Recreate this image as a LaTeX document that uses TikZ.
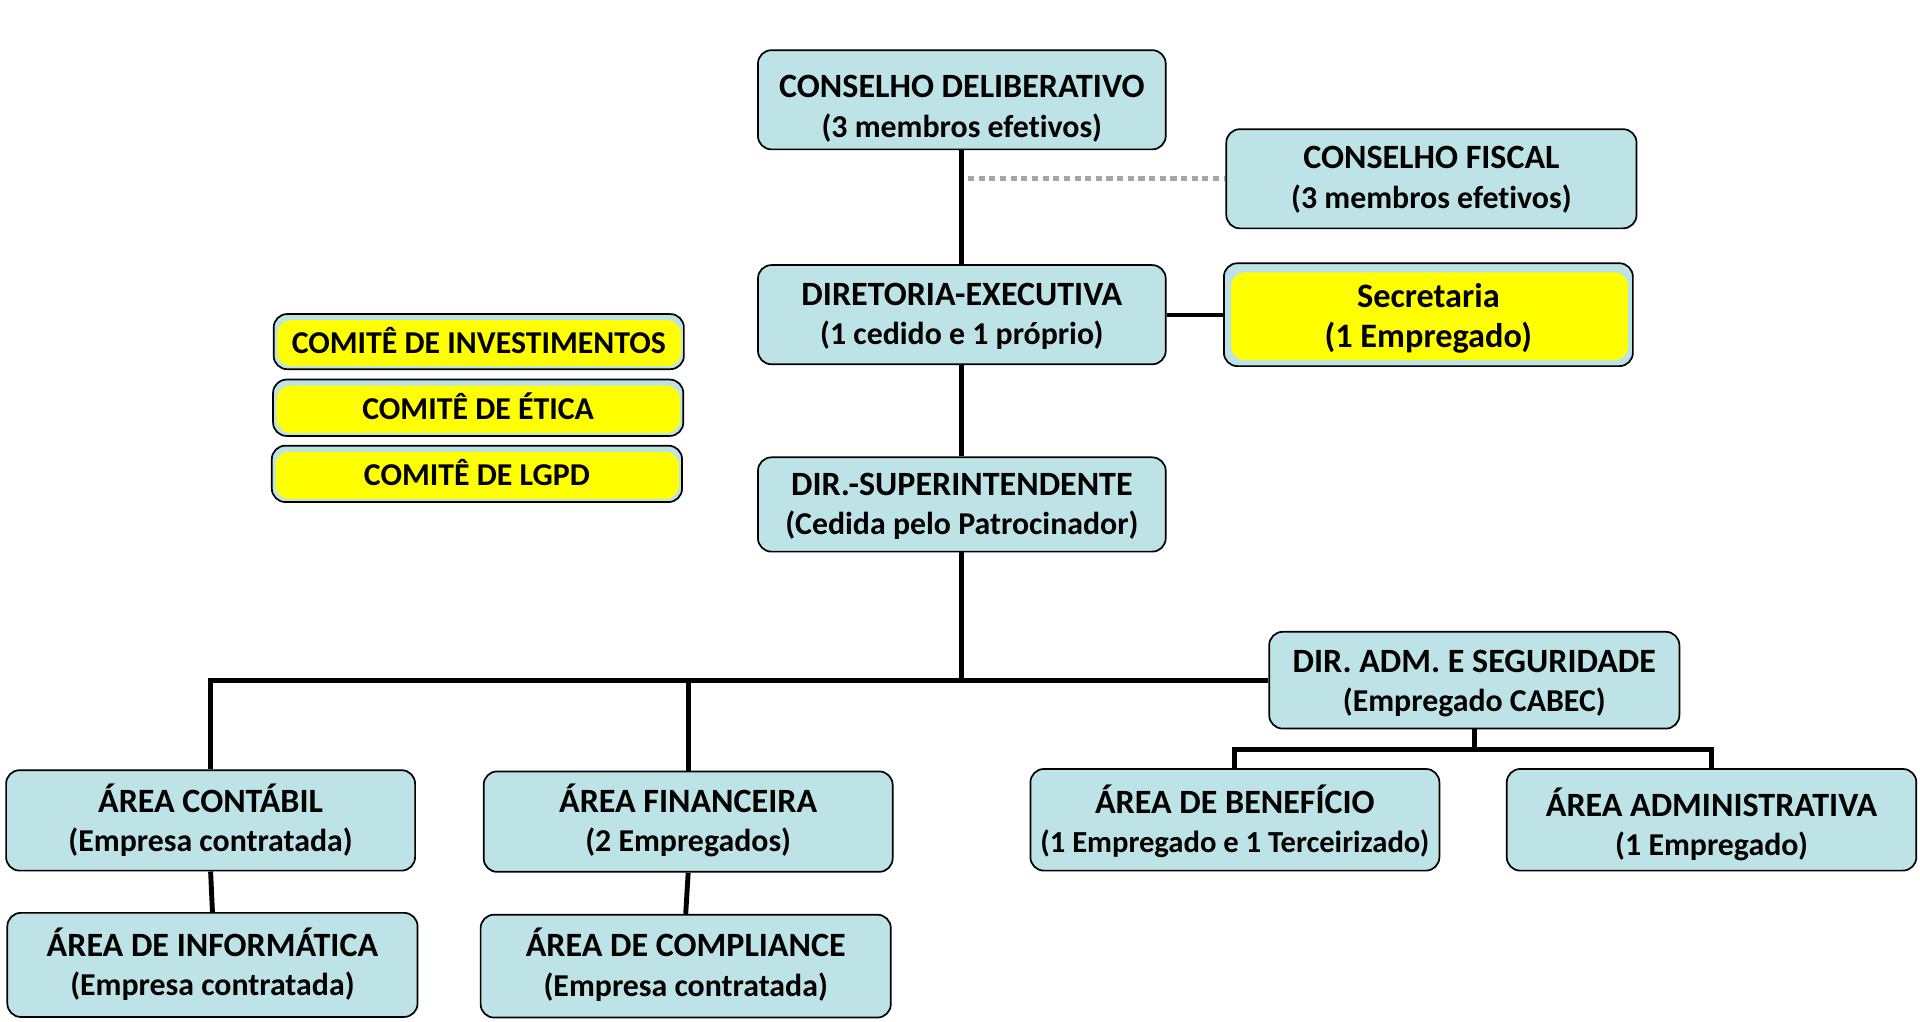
\documentclass[tikz,border=0pt]{standalone}
\usepackage{fontspec}
\setmainfont{Carlito}[Ligatures=NoCommon]
\definecolor{lblue}{RGB}{189,227,230}
\definecolor{dotgrey}{RGB}{166,166,166}
\definecolor{yel}{RGB}{255,255,0}
\newlength\tlstrut
% general two-line text: #1 size of sub line, #2 downward shift, #3 heading, #4 sub line
\newcommand\twolg[4]{\setlength\tlstrut{\dimexpr24pt+2\dimexpr#2pt\relax\relax}%
  \fontsize{27.8}{32}\selectfont\rule{0pt}{\tlstrut}#3\\\fontsize{#1}{32}\selectfont#4\rule[-7pt]{0pt}{7pt}}
\newcommand\twol[2]{\twolg{26}{0}{#1}{#2}}
\newcommand\twos[2]{\fontsize{28}{33}\selectfont\rule{0pt}{28pt}#1\\\fontsize{28}{33}\selectfont#2\rule[-7pt]{0pt}{7pt}}
\newcommand\onel[1]{\fontsize{26}{30}\selectfont\rule[-4pt]{0pt}{27pt}#1}
\tikzset{
  box/.style={draw=black, line width=1.4pt, fill=lblue, rounded corners=11pt,
    align=center, inner sep=0pt, text=black,
    font=\bfseries\fontsize{26}{32}\selectfont},
  ybox/.style={box, path picture={\fill[yel]
    ([shift={(3pt,-5pt)}]path picture bounding box.north west) rectangle
    ([shift={(-2.5pt,2.5pt)}]path picture bounding box.south east);}},
  sbox/.style={box, font=\bfseries\fontsize{28}{33}\selectfont,
    path picture={\fill[yel]
    ([shift={(6pt,-7.5pt)}]path picture bounding box.north west) rectangle
    ([shift={(-4pt,5pt)}]path picture bounding box.south east);}},
  conn/.style={line width=4pt},
  thinconn/.style={line width=3pt},
  dotconn/.style={draw=dotgrey, line width=3.8pt, dash pattern=on 5pt off 3.7pt},
}
\begin{document}
\begin{tikzpicture}[x=1pt,y=-1pt]
\useasboundingbox (0,0) rectangle (1568,834);

% top column
\node[box, minimum width=333pt, minimum height=81pt] (cd) at (785.5,81.5) {\twolg{26}{6}{CONSELHO DELIBERATIVO}{(3 membros efetivos)}};
\node[box, minimum width=335pt, minimum height=81pt] (fisc) at (1169,146) {\twolg{26}{-0.5}{CONSELHO FISCAL}{(3 membros efetivos)}};
\node[box, minimum width=333pt, minimum height=81pt] (de) at (785.5,257) {\twol{DIRETORIA-EXECUTIVA}{(1 cedido e 1 próprio)}};
\node[sbox, minimum width=334pt, minimum height=84pt] (sec) at (1166.5,257) {\twos{Secretaria}{(1 Empregado)}};
\node[box, minimum width=333pt, minimum height=77pt] (ds) at (785.5,412) {\twol{DIR.-SUPERINTENDENTE}{(Cedida pelo Patrocinador)}};

% committees
\node[ybox, minimum width=335pt, minimum height=45pt] (ci) at (391,279) {\onel{COMITÊ DE INVESTIMENTOS}};
\node[ybox, minimum width=335pt, minimum height=46pt] (ce) at (390.5,333) {\onel{COMITÊ DE ÉTICA}};
\node[ybox, minimum width=335pt, minimum height=46pt] (cl) at (389.5,387) {\onel{COMITÊ DE LGPD}};

% lower level
\node[box, minimum width=335pt, minimum height=79pt] (adm) at (1204,555.5) {\twolg{26}{1}{DIR. ADM. E SEGURIDADE}{(Empregado CABEC)}};
\node[box, minimum width=334pt, minimum height=82pt] (contabil) at (172,670) {\twolg{26}{1}{ÁREA CONTÁBIL}{(Empresa contratada)}};
\node[box, minimum width=334pt, minimum height=82pt] (financeira) at (562,671) {\twol{ÁREA FINANCEIRA}{(2 Empregados)}};
\node[box, minimum width=334pt, minimum height=83pt] (beneficio) at (1008.5,669.5) {\twolg{25}{2}{ÁREA DE BENEFÍCIO}{(1 Empregado e 1 Terceirizado)}};
\node[box, minimum width=334.5pt, minimum height=83pt] (administrativa) at (1397.75,669.5) {\twolg{26}{5}{ÁREA ADMINISTRATIVA}{(1 Empregado)}};
\node[box, minimum width=335pt, minimum height=85pt] (informatica) at (173.5,788) {\twolg{26}{0.5}{ÁREA DE INFORMÁTICA}{(Empresa contratada)}};
\node[box, minimum width=335pt, minimum height=84pt] (compliance) at (560,789) {\twol{ÁREA DE COMPLIANCE}{(Empresa contratada)}};

% connectors
\draw[dotconn] ([xshift=5pt]fisc.west -| cd.south) -- (fisc.west);
\draw[conn] (cd.south) -- (de.north);
\draw[conn] (de.south) -- (ds.north);
\draw[thinconn] (de.east) -- (sec.west);
\draw[conn] (ds.south) -- (ds.south |- adm.west);
\draw[conn] (contabil.north) |- (adm.west);
\draw[conn] (financeira.north) -- (financeira.north |- adm.west);
\draw[conn] (contabil.south) -- (informatica.north);
\draw[conn] (financeira.south) -- (compliance.north);
\coordinate (sb) at (1204,612);
\draw[conn] (adm.south) -- (sb);
\draw[conn] (beneficio.north) |- (sb) -| (administrativa.north);
\end{tikzpicture}
\end{document}
